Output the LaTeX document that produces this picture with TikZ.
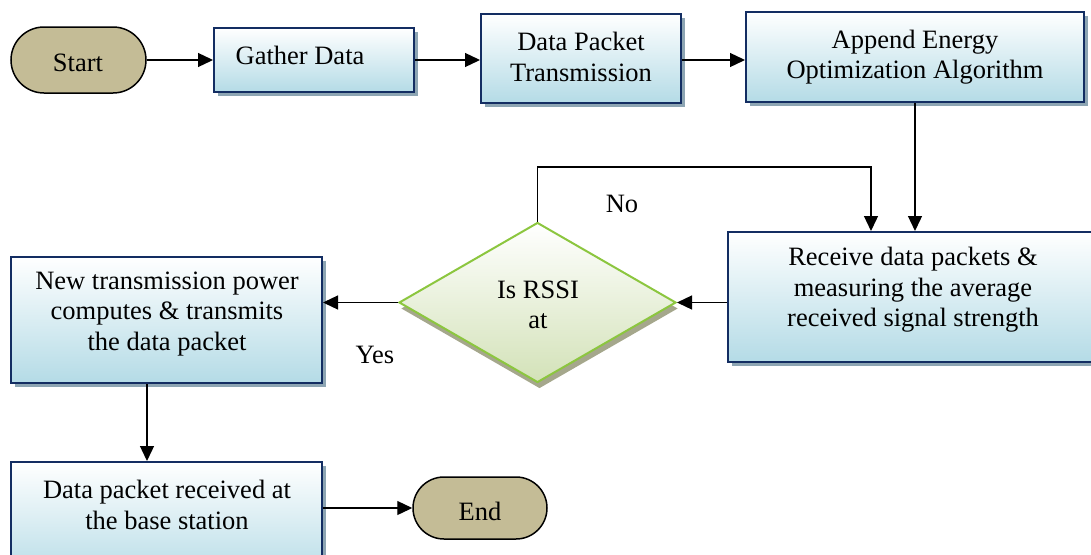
\documentclass[tikz,border=0pt]{standalone}
\usepackage{fontspec}
\setmainfont{Liberation Serif}
\usetikzlibrary{shapes.geometric,shadows,arrows.meta}
\definecolor{boxborder}{HTML}{132D62}
\definecolor{boxbottom}{HTML}{B4DBE6}
\definecolor{boxshadow}{HTML}{8DA5B3}
\definecolor{diaborder}{HTML}{8CC63F}
\definecolor{diabottom}{HTML}{D3E2B8}
\definecolor{diashadow}{HTML}{A5A78C}
\definecolor{termfill}{HTML}{C4BC96}
\tikzset{
  procbox/.style={draw=boxborder, line width=2pt, rectangle, inner sep=0pt,
    top color=white, bottom color=boxbottom,
    drop shadow={shadow xshift=4pt, shadow yshift=-4pt, fill=boxshadow, opacity=1}},
  decbox/.style={draw=diaborder, line width=2pt, diamond, inner sep=0pt,
    top color=white, bottom color=diabottom,
    drop shadow={shadow xshift=2pt, shadow yshift=-6pt, fill=diashadow, opacity=1}},
  termbox/.style={draw=black, line width=1.5pt, rectangle, inner sep=0pt, fill=termfill},
  txt/.style={align=center, inner sep=0pt, font=\fontsize{26.5}{30.5}\selectfont},
  arr/.style={line width=1.3pt, -{Triangle[length=15pt,width=14pt]}},
  ln/.style={line width=1.3pt}
}
\begin{document}
\begin{tikzpicture}[x=1pt,y=-1pt]
\useasboundingbox (0,0) rectangle (1091,554);
% terminals
\node[termbox, minimum width=135pt, minimum height=66pt, rounded corners=33pt] (start) at (78.5,60) {};
\node[txt] (tstart) at (78,63) {Start};
\node[termbox, minimum width=134pt, minimum height=62pt, rounded corners=31pt] (end) at (480,508) {};
\node[txt] (tend) at (480,511) {End};
% process boxes
\node[procbox, minimum width=200pt, minimum height=64pt] (gather) at (314,60) {};
\node[txt] (tgather) at (300,55) {Gather Data};
\node[procbox, minimum width=200pt, minimum height=89pt] (dpt) at (581,58.5) {};
\node[txt] (tdpt) at (581,57) {Data Packet\\Transmission};
\node[procbox, minimum width=338pt, minimum height=90pt] (append) at (915,57) {};
\node[txt] (tappend) at (915,57) {Append Energy\\Optimization Algorithm};
\node[procbox, minimum width=368pt, minimum height=130pt] (receive) at (912,297) {};
\node[txt] (treceive) at (913,290) {Receive data packets \&\\measuring the average\\received signal strength};
\node[procbox, minimum width=311pt, minimum height=126pt] (newbox) at (166.5,320) {};
\node[txt] (tnew) at (167,314) {New transmission power\\computes \& transmits\\the data packet};
\node[procbox, minimum width=311pt, minimum height=120pt] (datarec) at (166.5,522) {};
\node[txt] (tdatarec) at (167,505) {Data packet received at\\the base station};
% decision
\node[decbox, minimum width=277pt, minimum height=160pt, aspect=1.73] (dia) at (537.5,302.5) {};
\node[txt] (tdia) at (538,305) {Is RSSI\\at};
% labels
\node[txt] (lno) at (622,204) {No};
\node[txt] (lyes) at (375,355) {Yes};
% connectors
\draw[arr] (start.east) -- (gather.west);
\draw[arr] (gather.east) -- (gather.east -| dpt.west);
\draw[arr] (dpt.east |- gather.east) -- (append.west |- gather.east);
\draw[arr] (append.south) -- (append.south |- receive.north);
\coordinate (nturn) at (871,167);
\draw[arr] (dia.north) |- (nturn) -- (nturn |- receive.north);
\draw[arr] (dia.east -| receive.west) -- (dia.east);
\draw[arr] (dia.west) -- (dia.west -| newbox.east);
\draw[arr] ([xshift=-19.5pt]newbox.south) -- ([xshift=-19.5pt]newbox.south |- datarec.north);
\draw[arr] (end.west -| datarec.east) -- (end.west);
\end{tikzpicture}
\end{document}
